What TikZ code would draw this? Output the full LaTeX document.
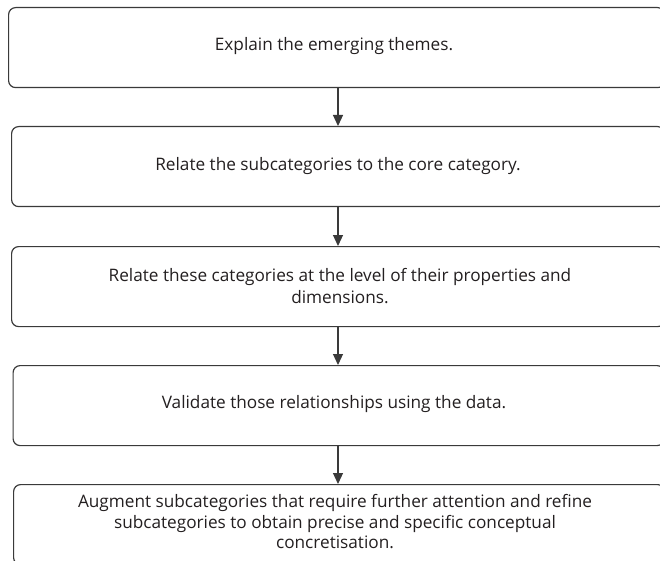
\documentclass[tikz,border=0pt]{standalone}
\usepackage{fontspec}
\setmainfont{Open Sans}
\usetikzlibrary{arrows.meta}
\definecolor{edge}{HTML}{3A3A3A}
\definecolor{ink}{HTML}{231F20}
\begin{document}
\begin{tikzpicture}[x=1pt,y=-1pt,
  stepbox/.style={draw=edge, line width=1.2pt, rounded corners=7pt,
    minimum height=80pt, inner sep=0pt, anchor=north west},
  label/.style={text=ink, align=center, font=\fontsize{17.2}{21.5}\selectfont},
  flow/.style={draw=edge, line width=1.2pt,
    -{Triangle[width=10pt,length=11pt]}}]
\useasboundingbox (0,0) rectangle (660,561);
\clip (0,0) rectangle (660,561);
% process boxes (right side runs past the frame)
\node[stepbox, minimum width=656pt] (b1) at (8,7) {};
\node[stepbox, minimum width=653pt] (b2) at (11,126) {};
\node[stepbox, minimum width=653pt] (b3) at (11,246) {};
\node[stepbox, minimum width=651pt] (b4) at (12.5,365) {};
\node[stepbox, minimum width=651pt] (b5) at (13,484) {};
% texts
\node[label] (t1) at (334,46) {Explain the emerging themes.};
\node[label] (t2) at (338,166) {Relate the subcategories to the core category.};
\node[label] (t3) at (340,286) {Relate these categories at the level of their properties and\\dimensions.};
\node[label] (t4) at (334,404) {Validate those relationships using the data.};
\node[label, font=\fontsize{17.2}{20.5}\selectfont] (t5) at (335,522) {Augment subcategories that require further attention and refine\\subcategories to obtain precise and specific conceptual\\concretisation.};
% connectors
\coordinate (x) at (338,0);
\draw[flow] (b1.south -| x) -- (b2.north -| x);
\draw[flow] (b2.south -| x) -- (b3.north -| x);
\draw[flow] (b3.south -| x) -- (b4.north -| x);
\draw[flow] (b4.south -| x) -- (b5.north -| x);
\end{tikzpicture}
\end{document}
